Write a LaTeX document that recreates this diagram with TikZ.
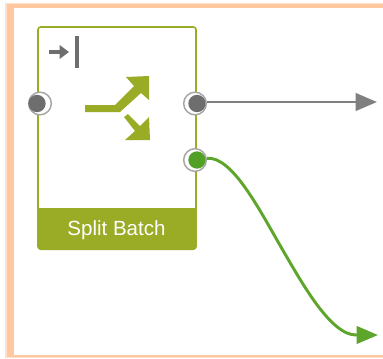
\documentclass[tikz,border=0pt]{standalone}
\usepackage{fontspec}
\setmainfont{Liberation Sans}
\usetikzlibrary{arrows.meta}
\definecolor{olive}{HTML}{9AAB26}
\definecolor{portgray}{HTML}{6E6E6E}
\definecolor{flowgray}{HTML}{808080}
\definecolor{flowgreen}{HTML}{5EA52C}
\definecolor{portgreen}{HTML}{52A026}
\definecolor{frame}{HTML}{FFC8A0}
\tikzset{
  x=0.75pt,y=-0.75pt,
  portring/.style={circle,draw=gray!70,fill=white,line width=1.1pt,minimum size=17pt,inner sep=0pt},
  portdot/.style={circle,minimum size=13pt,inner sep=0pt,outer sep=1pt},
  flow/.style={line width=2.2pt,-{Triangle[length=16pt,width=13pt]}},
  icon/.style={fill=olive,draw=none},
}
\begin{document}
\begin{tikzpicture}
\useasboundingbox (0,0) rectangle (383,358);
\fill[white] (0,0) rectangle (383,358);
% orange frame
\fill[frame!55] (5,3) rectangle (383,358);
\fill[frame] (7,4) rectangle (383,356.5);
\fill[white] (14,8) rectangle (383,355);
% card
\draw[olive,line width=1.2pt,rounded corners=2pt,fill=white] (38,27) rectangle (196,249);
\fill[olive,rounded corners=2.5pt] (37.5,210) rectangle (196.5,250);
\fill[olive] (37.5,208) rectangle (196.5,215);
\node[text=white,font=\fontsize{15.4pt}{17pt}\selectfont,inner sep=0pt] (label) at (116.5,230) {Split Batch};
% small icon
\fill[portgray] (75,36) rectangle (79,68);
\coordinate (ia) at (49,52);
\coordinate (ib) at (69,52);
\draw[portgray,line width=2.6pt,-{Triangle[length=7pt,width=10pt]}] (ia) -- (ib);
% split icon
\fill[icon] (85,105) -- (115,105) -- (134,86) -- (126,77) -- (149,76) -- (149,100) -- (141,93) -- (120,112) -- (85,112) -- cycle;
\fill[icon] (124,117) -- (128,114) -- (140,126) -- (149,117) -- (150,140) -- (125,140) -- (135,131) -- cycle;
% ports
\node[portring] (inring) at (40,103.5) {};
\node[portdot,fill=portgray] (in) at (37,103.5) {};
\node[portring] (outaring) at (195,103.5) {};
\node[portdot,fill=portgray] (outa) at (197,103.5) {};
\node[portring] (outbring) at (195,160) {};
\node[portdot,fill=portgreen] (outb) at (197,160) {};
% connectors
\coordinate (enda) at (377,102);
\coordinate (bmid) at (281,247);
\coordinate (bnear) at (356,335);
\coordinate (endb) at (378,335);
\draw[flow,flowgray] (outa.east |- enda) -- (enda);
\draw[flow,flowgreen] (outb.10) .. controls (232,156) and (259,209) .. (bmid) .. controls (303,285) and (331,335) .. (bnear) -- (endb);
\end{tikzpicture}
\end{document}
